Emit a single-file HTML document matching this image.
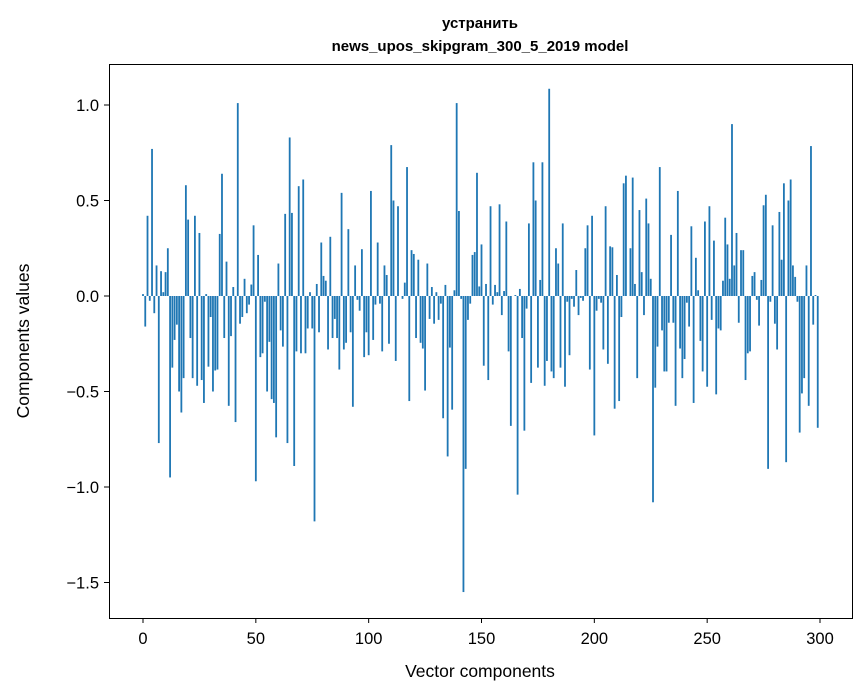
<!DOCTYPE html>
<html><head><meta charset="utf-8"><style>
body{margin:0;background:#fff;}
svg{display:block;font-family:"Liberation Sans","DejaVu Sans",sans-serif;}
</style></head><body>
<svg id="chart" width="867" height="696">
<rect x="0" y="0" width="867" height="696" fill="#fff"/>
<text x="480" y="28" text-anchor="middle" font-size="15" font-weight="bold">устранить</text>
<text x="480" y="51" text-anchor="middle" font-size="15" font-weight="bold">news_upos_skipgram_300_5_2019 model</text>
<g id="bars"></g>
<g id="xticks"></g>
<g id="yticks"></g>
<rect x="109.5" y="64.5" width="743" height="554" fill="none" stroke="#000" stroke-width="1"/>
<text x="480" y="677" text-anchor="middle" font-size="17.5">Vector components</text>
<text x="0" y="0" transform="translate(29,341) rotate(-90)" text-anchor="middle" font-size="17.5">Components values</text>
</svg>
<script>
const values = [0.01,-0.16,0.42,-0.025,0.77,-0.09,0.16,-0.77,0.13,0.02,0.125,0.25,-0.95,-0.375,-0.23,-0.15,-0.5,-0.61,-0.43,0.58,
0.40,-0.22,-0.43,0.42,-0.47,0.33,-0.44,-0.56,0.01,-0.37,-0.11,-0.5,-0.39,-0.385,0.325,0.64,-0.22,0.18,-0.575,-0.21,
0.047,-0.66,1.01,-0.145,-0.11,0.09,-0.09,-0.045,0.06,0.37,-0.97,0.215,-0.32,-0.30,-0.03,-0.5,-0.24,-0.54,-0.56,-0.74,
0.17,-0.18,-0.265,0.43,-0.77,0.83,0.435,-0.89,-0.29,0.575,-0.30,0.61,-0.30,-0.17,0.02,-0.17,-1.18,0.063,-0.19,0.28,
0.105,0.08,-0.28,0.31,-0.22,-0.12,-0.22,-0.385,0.54,-0.28,-0.245,0.35,-0.19,-0.58,0.16,-0.02,-0.077,0.245,-0.32,-0.19,
-0.31,0.55,-0.23,-0.045,0.28,-0.04,-0.29,0.16,0.11,-0.25,0.79,0.50,-0.34,0.47,0.0,-0.015,0.07,0.675,-0.55,0.24,
0.22,-0.22,0.19,-0.245,-0.275,-0.495,0.17,-0.12,0.047,-0.145,0.02,-0.125,-0.04,-0.64,0.058,-0.84,-0.27,-0.595,0.03,1.01,
0.445,-0.015,-1.55,-0.905,-0.125,-0.04,0.215,0.23,0.645,0.05,0.27,-0.365,0.063,-0.44,0.47,-0.045,0.058,0.02,0.48,-0.10,
0.026,0.39,-0.29,-0.68,0.0,0.005,-1.04,0.037,-0.22,-0.705,-0.066,0.38,-0.455,0.70,0.50,-0.375,0.084,0.70,-0.47,-0.34,
1.085,-0.395,-0.43,0.25,0.17,-0.375,0.38,-0.475,-0.03,-0.31,-0.015,-0.056,0.136,-0.10,-0.01,-0.025,0.25,0.37,-0.385,0.42,
-0.73,-0.077,-0.015,-0.035,-0.28,0.47,-0.355,0.26,0.255,-0.59,0.11,-0.55,-0.11,0.59,0.63,0.0,0.25,0.62,0.063,-0.43,
0.45,0.125,-0.10,0.51,0.38,0.09,-1.08,-0.48,-0.265,0.675,-0.18,-0.395,-0.395,-0.14,0.32,-0.14,-0.575,0.55,-0.275,-0.43,
-0.33,-0.035,-0.16,0.365,-0.56,0.20,0.03,-0.235,-0.395,0.39,-0.475,0.47,-0.125,0.29,-0.515,-0.17,-0.18,0.08,0.41,0.27,
0.09,0.90,0.16,0.33,-0.14,0.24,0.24,-0.44,-0.30,-0.29,0.105,0.125,-0.02,-0.155,0.084,0.475,0.53,-0.905,-0.03,0.37,
-0.145,-0.28,0.44,0.19,0.59,-0.87,0.50,0.61,0.16,0.10,-0.03,-0.715,-0.51,-0.43,0.16,-0.575,0.785,-0.15,0.005,-0.69];
const xTicks = [0,50,100,150,200,250,300];
const yTicks = [1.0,0.5,0.0,-0.5,-1.0,-1.5];
const yTickLabels = ["1.0","0.5","0.0","\u22120.5","\u22121.0","\u22121.5"];

const NS="http://www.w3.org/2000/svg";
const x = v => 143 + v*(820-143)/300;
const y = v => 296 - v*191;
const bw = 0.8*(820-143)/300;
const gb = document.getElementById('bars');
values.forEach((v,i)=>{
  const r=document.createElementNS(NS,'rect');
  r.setAttribute('x', x(i)-bw/2);
  r.setAttribute('y', Math.min(y(v),y(0)));
  r.setAttribute('width', bw);
  r.setAttribute('height', Math.abs(y(v)-y(0)));
  r.setAttribute('fill','#1f77b4');
  
  
  gb.appendChild(r);
});
const gx=document.getElementById('xticks');
xTicks.forEach(t=>{
  const l=document.createElementNS(NS,'line');
  l.setAttribute('x1',x(t));l.setAttribute('x2',x(t));l.setAttribute('y1',618);l.setAttribute('y2',623);
  l.setAttribute('stroke','#000');
  
  
  gx.appendChild(l);
  const tx=document.createElementNS(NS,'text');
  tx.setAttribute('x',x(t));tx.setAttribute('y',644);tx.setAttribute('text-anchor','middle');tx.setAttribute('font-size','16.5');
  tx.textContent=t;
  
  
  gx.appendChild(tx);
});
const gy=document.getElementById('yticks');
yTicks.forEach((t,k)=>{
  const l=document.createElementNS(NS,'line');
  l.setAttribute('x1',104);l.setAttribute('x2',109);l.setAttribute('y1',y(t));l.setAttribute('y2',y(t));
  l.setAttribute('stroke','#000');
  
  
  gy.appendChild(l);
  const tx=document.createElementNS(NS,'text');
  tx.setAttribute('x',99);tx.setAttribute('y',y(t)+6);tx.setAttribute('text-anchor','end');tx.setAttribute('font-size','16.5');
  tx.textContent=yTickLabels[k];
  
  
  gy.appendChild(tx);
});
</script>
</body></html>
